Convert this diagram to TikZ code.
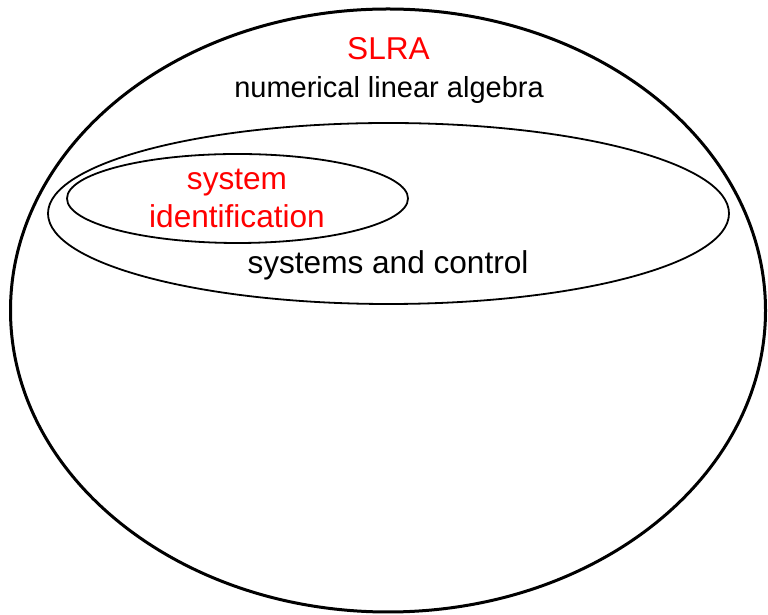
\documentclass[tikz,border=0pt]{standalone}
\usepackage{fontspec}
\setmainfont{Liberation Sans}
\usetikzlibrary{shapes.geometric}
\begin{document}
\begin{tikzpicture}[x=1pt,y=1pt,
  big/.style={font=\fontsize{31.6}{36}\selectfont},
  mid/.style={font=\fontsize{29}{34}\selectfont},
  redtext/.style={big,text=red,inner sep=0pt,anchor=base},
  blacktext/.style={text=black,inner sep=0pt,anchor=base},
  thickring/.style={draw=black,line width=3pt},
  thinring/.style={draw=black,line width=1.8pt}]
\useasboundingbox (0,0) rectangle (768,615);
\path[thickring] (388,304.5) ellipse [x radius=377.5, y radius=301.5];
\path[thinring] (388.5,401.5) ellipse [x radius=340.5, y radius=90.5];
\path[thinring] (237.5,416.5) ellipse [x radius=170.5, y radius=44.5];
\node[redtext] (slra) at (388.5,555) {SLRA};
\node[blacktext,mid] (nla) at (389,517) {numerical linear algebra};
\node[redtext] (sys) at (237,425) {system};
\node[redtext] (ident) at (237,387) {identification};
\node[blacktext,big] (sc) at (388,341) {systems and control};
\end{tikzpicture}
\end{document}
